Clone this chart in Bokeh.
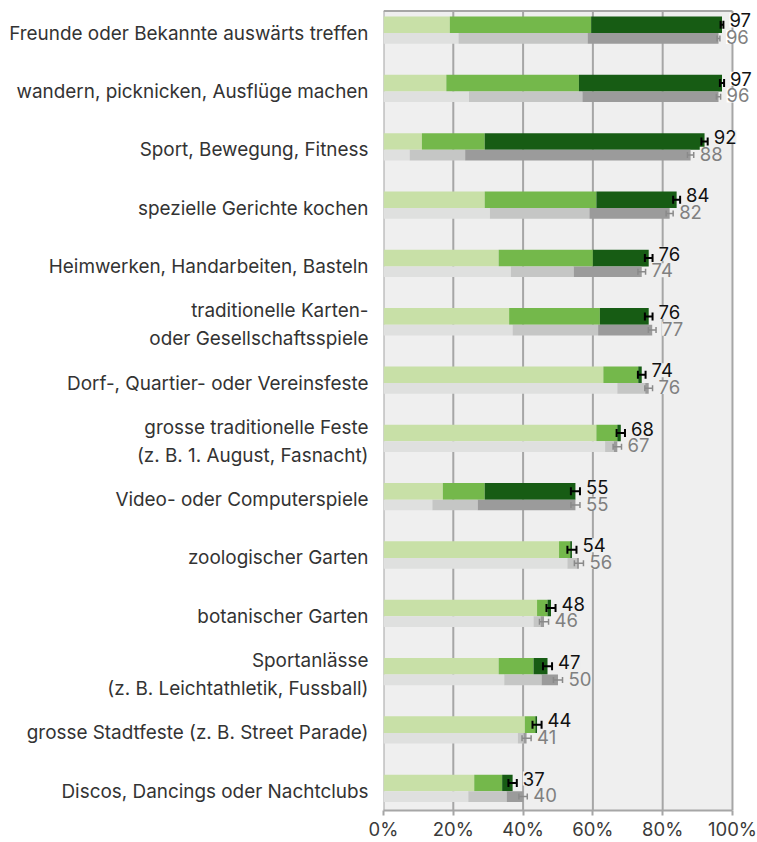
import numpy as np
from bokeh.plotting import figure
from bokeh.models import (ColumnDataSource, Range1d, FixedTicker, LabelSet,
                          Whisker, TeeHead, PrintfTickFormatter)
from bokeh.core.properties import value
from bokeh.embed import file_html
from bokeh.resources import INLINE

categories = [
    "Freunde oder Bekannte auswärts treffen",
    "wandern, picknicken, Ausflüge machen",
    "Sport, Bewegung, Fitness",
    "spezielle Gerichte kochen",
    "Heimwerken, Handarbeiten, Basteln",
    "traditionelle Karten-\noder Gesellschaftsspiele",
    "Dorf-, Quartier- oder Vereinsfeste",
    "grosse traditionelle Feste\n(z. B. 1. August, Fasnacht)",
    "Video- oder Computerspiele",
    "zoologischer Garten",
    "botanischer Garten",
    "Sportanlässe\n(z. B. Leichtathletik, Fussball)",
    "grosse Stadtfeste (z. B. Street Parade)",
    "Discos, Dancings oder Nachtclubs",
]

cur_light = [19, 18, 11, 29, 33, 36, 63, 61, 17, 50.3, 44, 33, 40.5, 26]
cur_mid = [40.5, 38, 18, 32, 27, 26, 10, 6, 12, 3.2, 3, 10, 3, 8]
cur_dark = [37.5, 41, 63, 23, 16, 14, 1, 1, 26, 0.5, 1, 4, 0.5, 3]
cur_total = [97, 97, 92, 84, 76, 76, 74, 68, 55, 54, 48, 47, 44, 37]
cur_err = [0.4, 0.6, 0.9, 1.0, 1.1, 1.1, 1.1, 1.2, 1.3, 1.3, 1.3, 1.3, 1.3, 1.2]

prev_light = [21.5, 24.5, 7.5, 30.5, 36.5, 37, 67, 63.5, 14, 52.7, 43, 34.6, 38.5, 24.3]
prev_mid = [37, 32.5, 15.9, 28.5, 18, 24.5, 8, 2.5, 13, 2.7, 2, 10.7, 1.7, 11]
prev_dark = [37.5, 39, 64.6, 23, 19.5, 15.5, 1, 1, 28, 0.6, 1, 4.7, 0.8, 4.7]
prev_total = [96, 96, 88, 82, 74, 77, 76, 67, 55, 56, 46, 50, 41, 40]
prev_err = [0.4, 0.6, 0.9, 1.0, 1.1, 1.1, 1.1, 1.2, 1.3, 1.3, 1.3, 1.3, 1.3, 1.2]

x_ticks = [0, 20, 40, 60, 80, 100]

green = ["#c8e0a7", "#74b84b", "#175c14"]
greys = ["#dfe0df", "#c5c6c5", "#9b9b9b"]
BG = "#efefef"
LINE = "#a6a6a6"
FONT = "Inter"
FS = "18.5px"

n = len(categories)
rows = np.arange(n)

Y_BOTTOM = 13.33
Y_TOP = -0.422
Y_BORDER = -0.379
X_END = 106.6

p = figure(width=757, height=842, output_backend="svg", toolbar_location=None,
           x_range=Range1d(0, X_END), y_range=Range1d(Y_BOTTOM, Y_TOP),
           min_border_left=383, min_border_right=2, min_border_top=8,
           min_border_bottom=29)
p.background_fill_color = "white"
p.border_fill_color = "white"
p.outline_line_color = None

# plot area background, grid lines and frame
p.quad(left=[0], right=[100], bottom=[Y_BOTTOM], top=[Y_BORDER],
       fill_color=BG, line_color=None)
p.segment(x0=x_ticks, x1=x_ticks, y0=[Y_BOTTOM] * len(x_ticks), y1=[Y_BORDER] * len(x_ticks),
          line_color=LINE, line_width=2)
p.segment(x0=[0], x1=[100], y0=[Y_BORDER], y1=[Y_BORDER], line_color=LINE, line_width=2)

def stack(light, mid, dark):
    a = np.array(light, float); b = np.array(mid, float); c = np.array(dark, float)
    return [(np.zeros(n), a), (a, a + b), (a + b, a + b + c)]

cur_h = 0.285
prev_h = 0.183
for (l, r), col in zip(stack(cur_light, cur_mid, cur_dark), green):
    p.hbar(y=rows - cur_h / 2, left=l, right=r, height=cur_h, fill_color=col, line_color=None)
for (l, r), col in zip(stack(prev_light, prev_mid, prev_dark), greys):
    p.hbar(y=rows + prev_h / 2, left=l, right=r, height=prev_h, fill_color=col, line_color=None)

cur_end = np.array(cur_light) + np.array(cur_mid) + np.array(cur_dark)
prev_end = np.array(prev_light) + np.array(prev_mid) + np.array(prev_dark)

wsrc = ColumnDataSource(dict(y=rows - cur_h / 2, lo=cur_end - np.array(cur_err),
                             hi=cur_end + np.array(cur_err)))
w = Whisker(source=wsrc, base="y", lower="lo", upper="hi", dimension="width",
            line_color="black", line_width=2, level="overlay",
            upper_head=TeeHead(size=8, line_color="black", line_width=2),
            lower_head=TeeHead(size=8, line_color="black", line_width=2))
p.add_layout(w)
wsrc2 = ColumnDataSource(dict(y=rows + prev_h / 2, lo=prev_end - np.array(prev_err),
                              hi=prev_end + np.array(prev_err)))
w2 = Whisker(source=wsrc2, base="y", lower="lo", upper="hi", dimension="width",
             line_color="#8a8a8a", line_width=1.5, level="overlay",
             upper_head=TeeHead(size=6, line_color="#8a8a8a", line_width=1.5),
             lower_head=TeeHead(size=6, line_color="#8a8a8a", line_width=1.5))
p.add_layout(w2)

cur_lab = ColumnDataSource(dict(
    x=cur_end + np.array(cur_err), y=rows - 0.217,
    t=[str(v) for v in cur_total],
    bg=["white" if v >= 95 else BG for v in cur_total]))
prev_lab = ColumnDataSource(dict(
    x=prev_end + np.array(prev_err), y=rows + 0.068,
    t=[str(v) for v in prev_total],
    bg=["white" if v >= 95 else BG for v in prev_total]))
p.add_layout(LabelSet(source=cur_lab, x="x", y="y", text="t", x_offset=6,
                      text_align="left", text_baseline="middle",
                      text_font=value(FONT), text_font_size=FS, text_color="#111111",
                      background_fill_color="bg"))
p.add_layout(LabelSet(source=prev_lab, x="x", y="y", text="t", x_offset=6,
                      text_align="left", text_baseline="middle",
                      text_font=value(FONT), text_font_size=FS, text_color="#808080",
                      background_fill_color="bg"))

p.xaxis.ticker = FixedTicker(ticks=x_ticks)
p.xaxis.bounds = (0, 100)
p.xaxis.formatter = PrintfTickFormatter(format="%d%%")
p.xaxis.axis_line_color = LINE
p.xaxis.axis_line_width = 2
p.xaxis.major_tick_line_color = LINE
p.xaxis.major_tick_line_width = 2
p.xaxis.major_tick_out = 5
p.xaxis.major_tick_in = 0
p.xaxis.minor_tick_line_color = None
p.xaxis.major_label_text_font = FONT
p.xaxis.major_label_text_font_size = FS
p.xaxis.major_label_text_color = "#3a3a3a"
p.xaxis.major_label_standoff = 2

p.yaxis.ticker = FixedTicker(ticks=list(rows))
p.yaxis.major_label_overrides = {int(i): c for i, c in zip(rows, categories)}
p.yaxis.axis_line_color = None
p.yaxis.major_tick_line_color = None
p.yaxis.minor_tick_line_color = None
p.yaxis.major_label_text_font = FONT
p.yaxis.major_label_text_font_size = "18.9px"
p.yaxis.major_label_text_color = "#333333"
p.yaxis.major_label_text_line_height = 1.22
p.yaxis.major_label_standoff = 9

p.xgrid.grid_line_color = None
p.ygrid.grid_line_color = None

open("out.html", "w").write(file_html(p, INLINE))
